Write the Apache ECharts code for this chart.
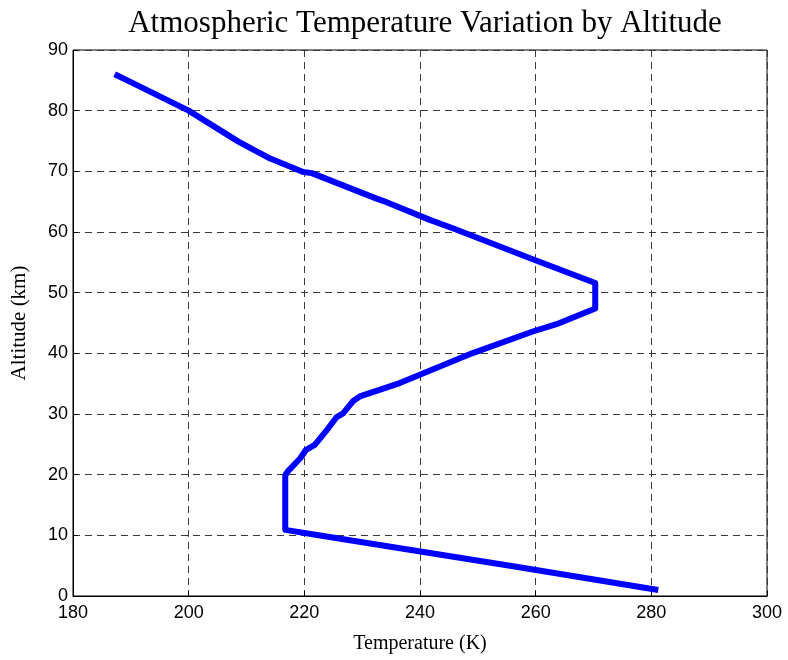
<!DOCTYPE html>
<html>
<head>
<meta charset="utf-8">
<script src="https://cdn.jsdelivr.net/npm/echarts@6/dist/echarts.min.js"></script>
<style>
  html, body { margin: 0; padding: 0; background: #fff; }
  #chart { width: 788px; height: 660px; }
</style>
</head>
<body>
<div id="chart"></div>
<script>
// Temperature profile (K) against altitude (km), listed from the ground upward
const temperatureK = [281.2, 256.1, 226.5, 223.3, 216.7, 216.7, 217.1, 219.3, 220.3, 221.8, 224.1, 225.6, 226.7, 228.5, 229.6, 236.5, 249.0, 259.5, 263.6, 270.3, 270.3, 259.5, 246.0, 241.7, 233.7, 232.5, 221.3, 219.8, 214.1, 208.6, 200.0, 190.0, 187.2];
const altitudeKm   = [1.0, 4.9, 9.4, 9.9, 10.9, 19.9, 20.5, 22.7, 24.1, 24.9, 27.6, 29.5, 30.1, 32.2, 32.9, 35.1, 40.0, 43.6, 44.8, 47.4, 51.6, 55.5, 60.5, 62.0, 65.1, 65.5, 69.7, 69.9, 72.1, 74.9, 80.0, 84.7, 86.0];

const xTicks = [180, 200, 220, 240, 260, 280, 300];
const yTicks = [0, 10, 20, 30, 40, 50, 60, 70, 80, 90];

const titleText = 'Atmospheric Temperature Variation by Altitude';
const xLabel = 'Temperature (K)';
const yLabel = 'Altitude (km)';

const points = temperatureK.map((t, i) => [t, altitudeKm[i]]);

const gridLine = { show: true, lineStyle: { color: '#3a3a3a', width: 1, type: [7, 5] } };
const tickFont = { fontFamily: 'Liberation Sans, Arial, sans-serif', fontSize: 18, color: '#000' };
const serif = 'Liberation Serif, Times New Roman, serif';

const plotLeft = 73, plotRight = 21;

const chart = echarts.init(document.getElementById('chart'), null, { renderer: 'canvas' });
chart.setOption({
  animation: false,
  backgroundColor: '#fff',
  title: {
    text: titleText,
    // centred over the plotting area rather than the whole canvas
    left: plotLeft + (788 - plotLeft - plotRight) / 2,
    textAlign: 'center',
    top: 3,
    textStyle: { fontFamily: serif, fontSize: 31, fontWeight: 'normal', color: '#000' }
  },
  grid: {
    left: plotLeft, right: plotRight, top: 50, bottom: 64,
    show: true, borderColor: '#000', borderWidth: 1, backgroundColor: '#fff'
  },
  xAxis: {
    type: 'value',
    min: xTicks[0], max: xTicks[xTicks.length - 1], interval: 20,
    name: xLabel,
    nameLocation: 'middle',
    nameGap: 38,
    nameTextStyle: { fontFamily: serif, fontSize: 20, color: '#000' },
    axisLine: { show: true, lineStyle: { color: '#000', width: 1 } },
    axisTick: { show: true, inside: true, length: 5, lineStyle: { color: '#000' } },
    axisLabel: Object.assign({ margin: 8 }, tickFont),
    splitLine: gridLine
  },
  yAxis: {
    type: 'value',
    min: yTicks[0], max: yTicks[yTicks.length - 1], interval: 10,
    name: yLabel,
    nameLocation: 'middle',
    nameGap: 43,
    nameRotate: 90,
    nameTextStyle: { fontFamily: serif, fontSize: 21, color: '#000' },
    axisLine: { show: true, lineStyle: { color: '#000', width: 1 } },
    axisTick: { show: true, inside: true, length: 5, lineStyle: { color: '#000' } },
    axisLabel: Object.assign({ margin: 5 }, tickFont),
    splitLine: gridLine
  },
  series: [{
    type: 'line',
    data: points,
    showSymbol: false,
    symbol: 'none',
    lineStyle: { color: '#0000ff', width: 6, join: 'round' },
    z: 5
  }]
});
</script>
</body>
</html>
